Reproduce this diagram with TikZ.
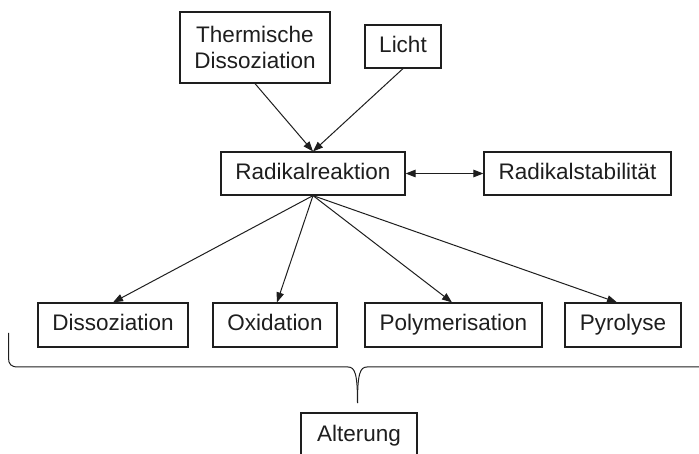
\documentclass[tikz,border=0pt]{standalone}
\usepackage{fontspec}
\setmainfont{Liberation Sans}
\usetikzlibrary{arrows.meta,calc}
\definecolor{ink}{HTML}{1E1E1E}
\tikzset{
  box/.style={draw=ink, line width=1.2pt, text=ink, inner sep=0pt, align=center,
    font=\fontsize{22.5}{26}\selectfont},
  onebox/.style={box, text height=16pt, text depth=4.5pt},
  conn/.style={draw=ink, line width=1pt, -{Triangle[length=10pt,width=7.5pt]}},
  dconn/.style={draw=ink, line width=1pt, {Triangle[length=10pt,width=7.5pt]}-{Triangle[length=10pt,width=7.5pt]}},
  bracestyle/.style={draw=ink, line width=1pt},
}
\begin{document}
\begin{tikzpicture}[x=1pt,y=-1pt]
\useasboundingbox (0,0) rectangle (699,454);
\clip (0,0) rectangle (699,454);
\node[box, minimum width=150pt, minimum height=71pt] (therm) at (255,47.5) {Thermische\\Dissoziation};
\node[onebox, minimum width=76pt, minimum height=43pt] (licht) at (403,46.5) {Licht};
\node[onebox, minimum width=184pt, minimum height=43pt] (rad) at (313,173.5) {Radikalreaktion};
\node[onebox, minimum width=187pt, minimum height=43pt] (stab) at (577.5,173.5) {Radikalstabilität};
\node[onebox, minimum width=150pt, minimum height=44pt] (diss) at (113,325) {Dissoziation};
\node[onebox, minimum width=124pt, minimum height=44pt] (oxi) at (275,325) {Oxidation};
\node[onebox, minimum width=177pt, minimum height=44pt] (poly) at (453.5,325) {Polymerisation};
\node[onebox, minimum width=116pt, minimum height=44pt] (pyro) at (623,325) {Pyrolyse};
\node[onebox, minimum width=116pt, minimum height=46pt] (alt) at (359,436) {Alterung};
\draw[conn] (therm.south) -- (rad.north);
\draw[conn] (licht.south) -- (rad.north);
\draw[dconn] (rad.east) -- (stab.west);
\draw[conn] (rad.south) -- (diss.north);
\draw[conn] (rad.south) -- ($(oxi.north)+(2,0)$);
\draw[conn] (rad.south) -- ($(poly.north)+(-1.5,0)$);
\draw[conn] (rad.south) -- ($(pyro.north)+(-6,0)$);
% brace
\draw[bracestyle]
  (8.5,333) -- (8.5,358) .. controls (8.5,364) and (11,367) .. (18,367) -- (348,367)
  .. controls (355,367) and (357.5,374) .. (357.5,403);
\draw[bracestyle]
  (720,367) -- (367,367) .. controls (360,367) and (357.5,374) .. (357.5,403);
\end{tikzpicture}
\end{document}
